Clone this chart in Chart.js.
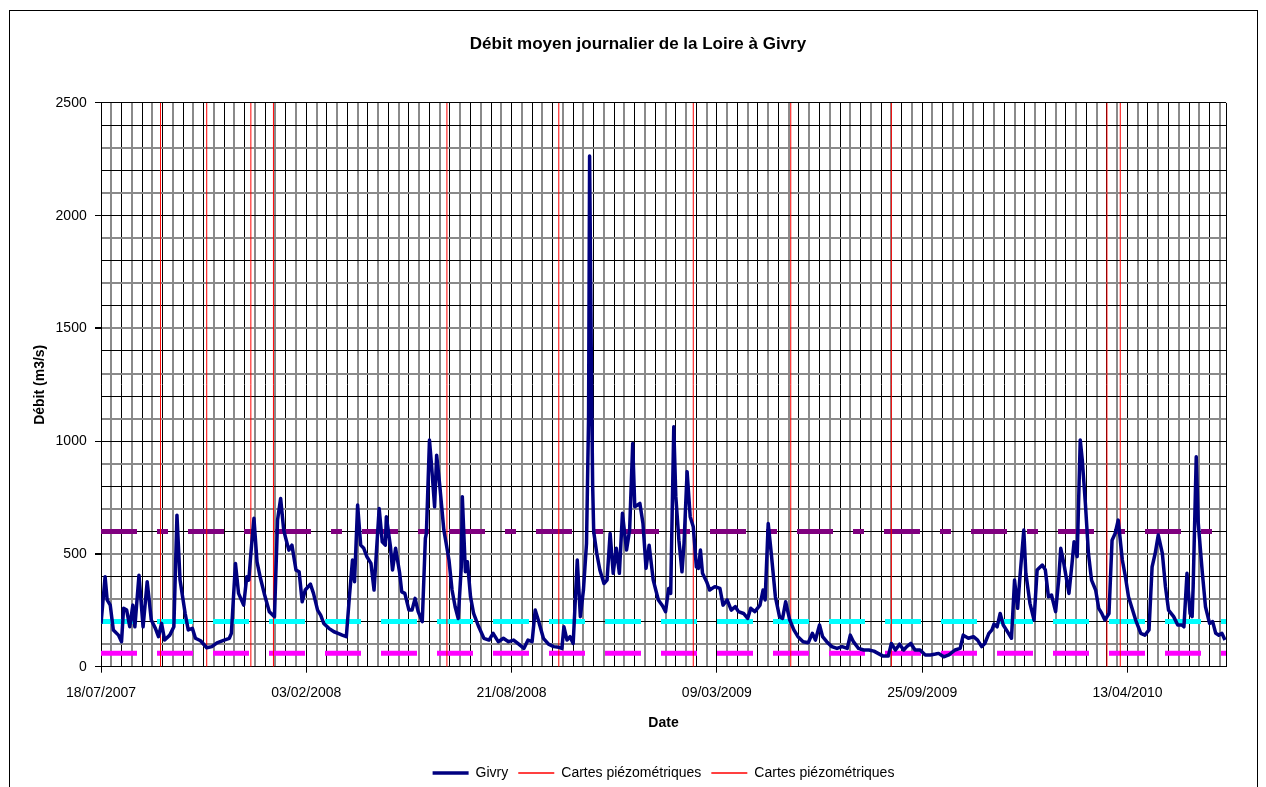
<!DOCTYPE html>
<html>
<head>
<meta charset="utf-8">
<script src="https://cdn.jsdelivr.net/npm/chart.js@4.4.1/dist/chart.umd.min.js"></script>
<style>
html,body{margin:0;padding:0;background:#fff;}
canvas{display:block;}
</style>
</head>
<body>
<canvas id="c" width="1266" height="787"></canvas>
<script>
// ---- DATA (x = days since 18/07/2007) ----
const chartTitle = 'Débit moyen journalier de la Loire à Givry';
const xTickDays = [0, 200, 400, 600, 800, 1000];
const xTickLabels = ['18/07/2007', '03/02/2008', '21/08/2008', '09/03/2009', '25/09/2009', '13/04/2010'];
const xMaxDay = 1096;
const yTickLabelsStep = 500;

const givryDays = [0,4,6,9,12,17,20,22,25,28,31,33,37,41,45,49,53,56,59,62,67,71,74,77,82,85,89,92,97,103,108,113,120,125,127,131,134,139,142,144,146,149,152,155,159,164,169,172,175,178,180,183,186,190,193,196,199,204,207,211,214,217,222,227,231,235,239,242,245,247,250,253,256,259,263,266,271,274,277,278,282,284,287,291,293,296,300,303,306,309,313,316,317,320,322,325,327,330,334,336,339,342,345,348,351,352,355,357,360,363,368,373,378,382,387,392,397,402,407,412,416,420,423,426,431,436,441,446,449,451,454,457,460,464,467,470,473,475,476,478,479,480,483,486,490,493,496,499,502,505,508,512,515,518,520,525,528,531,534,538,543,547,550,553,555,558,560,563,566,568,571,574,577,580,582,584,586,590,593,598,603,606,610,614,618,621,626,630,633,637,642,645,647,650,653,657,661,664,667,671,675,679,684,689,693,696,700,703,707,712,717,722,727,730,733,738,743,748,753,757,762,767,770,774,778,782,785,789,793,798,803,808,813,816,821,826,832,837,840,845,850,854,858,861,865,868,870,873,876,879,882,887,890,893,895,899,901,905,909,912,917,920,923,926,930,933,935,938,943,946,948,951,954,956,959,962,965,969,972,975,978,982,985,988,991,995,998,1001,1004,1008,1013,1017,1021,1024,1027,1030,1034,1037,1040,1045,1049,1053,1055,1058,1061,1063,1064,1067,1069,1073,1076,1080,1083,1086,1089,1092,1095];
const givryFlow = [190,399,296,273,163,140,111,259,251,177,273,177,406,177,377,207,170,133,192,118,140,177,672,384,236,163,170,126,115,84,89,106,118,126,148,458,325,273,399,384,502,658,465,399,325,244,222,650,746,606,569,517,539,428,421,288,340,366,325,251,229,192,170,155,148,140,133,310,473,377,717,539,525,488,458,340,702,554,539,665,532,429,525,414,332,325,251,251,303,244,200,569,591,1005,894,709,938,805,606,554,473,340,266,214,443,754,421,465,310,236,177,126,118,148,111,126,111,118,100,81,118,111,251,207,126,100,89,86,81,177,118,133,103,473,222,340,547,1100,2265,1200,800,600,502,429,369,384,591,414,525,414,680,517,606,990,709,724,635,436,539,384,296,270,244,347,325,1064,754,561,421,547,865,665,621,443,436,517,414,377,340,355,347,273,296,251,266,244,236,214,259,244,273,340,296,635,502,310,222,214,288,207,163,133,111,106,148,118,185,133,111,89,81,89,81,140,111,81,74,74,69,59,47,47,103,74,100,74,89,103,74,74,52,52,56,59,44,52,74,81,140,126,133,118,89,103,148,163,189,177,236,185,163,126,384,259,384,606,414,281,207,429,451,429,310,318,244,384,525,458,325,458,554,488,1005,916,724,502,384,340,259,236,207,236,561,591,650,473,399,310,266,207,148,140,163,443,502,584,502,355,251,222,185,185,177,414,236,222,355,931,635,414,266,192,200,148,140,148,118];

const cartes1Days = [58, 168, 337, 446, 672, 770, 980];
const cartes2Days = [103, 146, 577, 993];

const levelHigh = 600;   // purple, dash-dot
const levelMid = 200;    // cyan, dashed
const levelLow = 60;     // magenta, dashed

// ---- helpers ----
const xGridDays = [];
for (let d = 0; d < xMaxDay; d += 10) xGridDays.push(d);
xGridDays.push(xMaxDay);
const yGridValues = [];
for (let v = 0; v <= 2500; v += 100) yGridValues.push(v);

function verticalLines(days) {
  const out = [];
  days.forEach(d => { out.push({x: d, y: 0}); out.push({x: d, y: 2500}); out.push({x: d, y: null}); });
  return out;
}
function levelLine(v) { return [{x: 0, y: v}, {x: xMaxDay, y: v}]; }

Chart.defaults.font.family = "'Liberation Sans', Arial, sans-serif";
Chart.defaults.color = '#000';

const framePlugin = {
  id: 'frame',
  beforeDraw(chart) {
    const c = chart.ctx;
    c.save();
    c.fillStyle = '#fff';
    c.fillRect(0, 0, chart.width, chart.height);
    c.strokeStyle = '#000';
    c.lineWidth = 1;
    c.strokeRect(9.5, 10.5, 1248, 820);
    c.restore();
  }
};

function isGrayX(v) { return v !== 0 && v !== xMaxDay && Math.round(v / 10) % 2 === 1; }
function isGrayY(v) { return v !== 0 && v !== 2500 && Math.round(v / 100) % 2 === 1; }

new Chart(document.getElementById('c'), {
  type: 'line',
  data: {
    datasets: [
      {label: 'Givry', data: givryDays.map((d, i) => ({x: d, y: givryFlow[i]})),
       borderColor: '#000080', backgroundColor: '#000080', borderWidth: 3.5, pointRadius: 0, tension: 0, borderJoinStyle: 'round'},
      {label: 'Cartes piézométriques', data: verticalLines(cartes1Days),
       borderColor: '#ff0000', borderWidth: 1, pointRadius: 0, spanGaps: false},
      {label: 'Cartes piézométriques', data: verticalLines(cartes2Days),
       borderColor: '#ff0000', borderWidth: 1, pointRadius: 0, spanGaps: false},
      {label: 'niveau 600', data: levelLine(levelHigh), borderColor: '#800080', borderWidth: 5,
       borderDash: [36, 20, 11, 20], pointRadius: 0, borderCapStyle: 'butt'},
      {label: 'niveau 200', data: levelLine(levelMid), borderColor: '#00ffff', borderWidth: 5,
       borderDash: [36, 20], pointRadius: 0, borderCapStyle: 'butt'},
      {label: 'niveau 60', data: levelLine(levelLow), borderColor: '#ff00ff', borderWidth: 5,
       borderDash: [36, 20], pointRadius: 0, borderCapStyle: 'butt'}
    ]
  },
  options: {
    responsive: false,
    animation: false,
    devicePixelRatio: 1,
    layout: {padding: {left: 50, right: 40, top: 0, bottom: -3}},
    plugins: {
      title: {display: true, text: chartTitle, color: '#000',
        font: {size: 17, weight: 'bold'}, padding: {top: 34, bottom: 48.5}},
      legend: {
        position: 'bottom', fullSize: false,
        labels: {
          color: '#000', font: {size: 14}, usePointStyle: true, pointStyleWidth: 36, padding: 10,
          generateLabels: () => [
            {text: 'Givry', strokeStyle: '#000080', fillStyle: '#000080', lineWidth: 3.5, pointStyle: 'line', hidden: false, datasetIndex: 0, fontColor: '#000'},
            {text: 'Cartes piézométriques', strokeStyle: '#ff0000', fillStyle: '#ff0000', lineWidth: 1.5, pointStyle: 'line', hidden: false, datasetIndex: 1, fontColor: '#000'},
            {text: 'Cartes piézométriques', strokeStyle: '#ff0000', fillStyle: '#ff0000', lineWidth: 1.5, pointStyle: 'line', hidden: false, datasetIndex: 2, fontColor: '#000'}
          ]
        }
      },
      tooltip: {enabled: false}
    },
    scales: {
      x: {
        type: 'linear', min: 0, max: xMaxDay,
        afterBuildTicks: s => { s.ticks = xGridDays.map(v => ({value: v})); },
        afterFit: s => { s.height = 89.3; },
        ticks: {
          autoSkip: false, maxRotation: 0, minRotation: 0, padding: 12, color: '#000', font: {size: 14},
          callback: v => { const i = xTickDays.indexOf(v); return i >= 0 ? xTickLabels[i] : ''; }
        },
        grid: {
          tickLength: 6,
          lineWidth: c => (c.tick && isGrayX(c.tick.value)) ? 2 : 1,
          color: c => (c.tick && isGrayX(c.tick.value)) ? '#8a8a8a' : '#000',
          tickColor: c => (c.tick && xTickDays.indexOf(c.tick.value) >= 0) ? '#000' : 'rgba(0,0,0,0)'
        },
        border: {display: true, color: '#000', width: 1},
        title: {display: true, text: 'Date', color: '#000', font: {size: 14, weight: 'bold'}, padding: {top: 0, bottom: 24.3}}
      },
      y: {
        type: 'linear', min: 0, max: 2500,
        afterBuildTicks: s => { s.ticks = yGridValues.map(v => ({value: v})); },
        afterFit: s => { s.width = 51; },
        ticks: {
          autoSkip: false, padding: 8.3, color: '#000', font: {size: 14},
          callback: v => (v % yTickLabelsStep === 0) ? String(v) : ''
        },
        grid: {
          tickLength: 6,
          lineWidth: c => (c.tick && isGrayY(c.tick.value)) ? 2 : 1,
          color: c => (c.tick && isGrayY(c.tick.value)) ? '#8a8a8a' : '#000',
          tickColor: c => (c.tick && c.tick.value % yTickLabelsStep === 0) ? '#000' : 'rgba(0,0,0,0)'
        },
        border: {display: true, color: '#000', width: 1},
        title: {display: true, text: 'Débit (m3/s)', color: '#000', font: {size: 14, weight: 'bold'}, padding: {top: -18.4, bottom: 0}}
      }
    }
  },
  plugins: [framePlugin]
});
</script>
</body>
</html>
